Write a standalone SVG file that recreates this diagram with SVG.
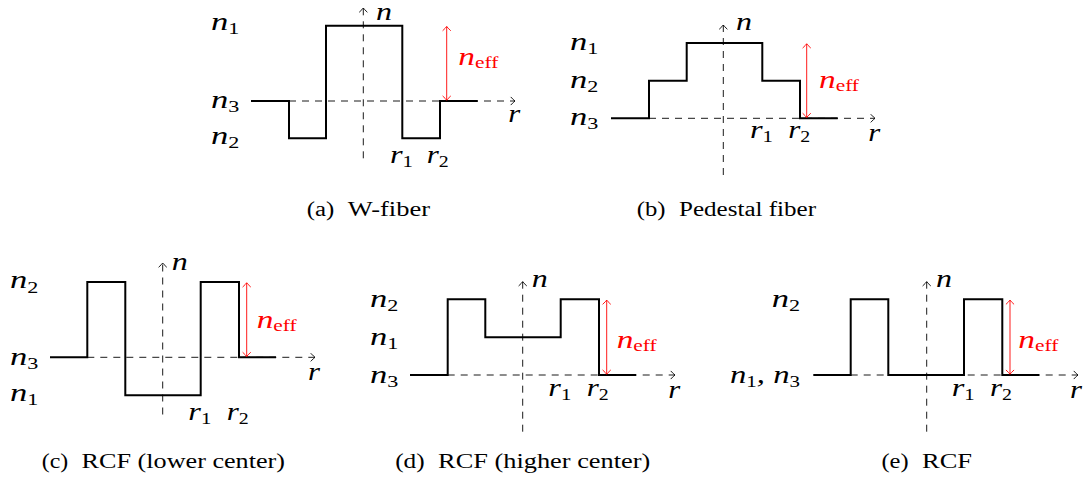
<svg xmlns="http://www.w3.org/2000/svg" width="1090" height="479" viewBox="0 0 1090 479">
<defs>
<marker id="ah" markerUnits="userSpaceOnUse" markerWidth="12" markerHeight="12" viewBox="-6 -6 12 12" refX="0" refY="0" orient="auto-start-reverse">
<path d="M-4,-3.8 Q-1.2,-0.8 0,0 Q-1.2,0.8 -4,3.8" fill="none" stroke="#000" stroke-width="0.9" stroke-dasharray="none" stroke-linecap="round"/>
</marker>
<marker id="ahr" markerUnits="userSpaceOnUse" markerWidth="12" markerHeight="12" viewBox="-6 -6 12 12" refX="0" refY="0" orient="auto-start-reverse">
<path d="M-4,-3.8 Q-1.2,-0.8 0,0 Q-1.2,0.8 -4,3.8" fill="none" stroke="#ff0000" stroke-width="0.9" stroke-dasharray="none" stroke-linecap="round"/>
</marker>
</defs>
<style>
.axis{fill:none;stroke:#000;stroke-width:0.9;stroke-dasharray:7 6;marker-end:url(#ah)}
.prof{fill:none;stroke:#000;stroke-width:2;stroke-linejoin:miter}
.neff{fill:none;stroke:#ff0000;stroke-width:0.9;marker-start:url(#ahr);marker-end:url(#ahr)}
.m{font-style:italic;font-size:25px;fill:#000}
.s{font-style:normal;font-size:16px}
.red{fill:#ff0000}
.cap{font-size:20px;fill:#000}
</style>
<rect width="1090" height="479" fill="#fff"/>

<g font-family="Liberation Serif, DejaVu Serif, Times New Roman, serif">
<g id="panel-a">
<path class="axis" d="M289,101 H515"/>
<path class="axis" d="M363.3,158.3 V8"/>
<path class="prof" d="M251,101 H289 V138.3 H326 V25.7 H402.3 V138.3 H440 V101 H477.7"/>
<path class="neff" d="M446.7,26.5 V100.2"/>
<text class="m" x="211" y="30" textLength="28.3" lengthAdjust="spacingAndGlyphs">n<tspan class="s" dy="4.3">1</tspan></text>
<text class="m" x="211" y="108" textLength="28.3" lengthAdjust="spacingAndGlyphs">n<tspan class="s" dy="4.3">3</tspan></text>
<text class="m" x="211" y="143.5" textLength="28.3" lengthAdjust="spacingAndGlyphs">n<tspan class="s" dy="4.3">2</tspan></text>
<text class="m" x="376" y="20" textLength="16" lengthAdjust="spacingAndGlyphs">n</text>
<text class="m" x="508.3" y="121.7" textLength="12" lengthAdjust="spacingAndGlyphs">r</text>
<text class="m" x="390" y="162.7" textLength="23" lengthAdjust="spacingAndGlyphs">r<tspan class="s" dy="4">1</tspan></text>
<text class="m" x="426.7" y="162.7" textLength="22" lengthAdjust="spacingAndGlyphs">r<tspan class="s" dy="4">2</tspan></text>
<text class="m red" x="458.3" y="65" textLength="40" lengthAdjust="spacingAndGlyphs">n<tspan class="s" dy="2.7">eff</tspan></text>
<text class="cap" x="306.7" y="216" textLength="27.6" lengthAdjust="spacingAndGlyphs">(a)</text>
<text class="cap" x="347.7" y="216" textLength="82.3" lengthAdjust="spacingAndGlyphs">W-fiber</text>
</g>

<g id="panel-b">
<path class="axis" d="M649,118.3 H875"/>
<path class="axis" d="M723.3,175 V25"/>
<path class="prof" d="M611,118.3 H649 V80.7 H686.7 V43 H762.3 V80.7 H800 V118.3 H837.7"/>
<path class="neff" d="M806.7,43.8 V117.5"/>
<text class="m" x="570" y="50" textLength="28.3" lengthAdjust="spacingAndGlyphs">n<tspan class="s" dy="4.3">1</tspan></text>
<text class="m" x="570" y="87.5" textLength="28.3" lengthAdjust="spacingAndGlyphs">n<tspan class="s" dy="4.3">2</tspan></text>
<text class="m" x="570" y="125" textLength="28.3" lengthAdjust="spacingAndGlyphs">n<tspan class="s" dy="4.3">3</tspan></text>
<text class="m" x="736" y="30" textLength="16" lengthAdjust="spacingAndGlyphs">n</text>
<text class="m" x="868.3" y="140.5" textLength="12" lengthAdjust="spacingAndGlyphs">r</text>
<text class="m" x="750" y="138.3" textLength="23" lengthAdjust="spacingAndGlyphs">r<tspan class="s" dy="4">1</tspan></text>
<text class="m" x="788.3" y="138.3" textLength="22" lengthAdjust="spacingAndGlyphs">r<tspan class="s" dy="4">2</tspan></text>
<text class="m red" x="819" y="88" textLength="40" lengthAdjust="spacingAndGlyphs">n<tspan class="s" dy="2.7">eff</tspan></text>
<text class="cap" x="636.7" y="216" textLength="28.8" lengthAdjust="spacingAndGlyphs">(b)</text>
<text class="cap" x="679" y="216" textLength="137" lengthAdjust="spacingAndGlyphs">Pedestal fiber</text>
</g>

<g id="panel-c">
<path class="axis" d="M87.3,357.3 H315"/>
<path class="axis" d="M162.7,414.5 V263"/>
<path class="prof" d="M50,357.3 H87.3 V282 H125.3 V395.3 H200.7 V282 H239 V357.3 H276"/>
<path class="neff" d="M246.7,282.8 V356.5"/>
<text class="m" x="10" y="288.3" textLength="28.3" lengthAdjust="spacingAndGlyphs">n<tspan class="s" dy="4.3">2</tspan></text>
<text class="m" x="10" y="364.5" textLength="28.3" lengthAdjust="spacingAndGlyphs">n<tspan class="s" dy="4.3">3</tspan></text>
<text class="m" x="10" y="401" textLength="28.3" lengthAdjust="spacingAndGlyphs">n<tspan class="s" dy="4.3">1</tspan></text>
<text class="m" x="171.7" y="270" textLength="16" lengthAdjust="spacingAndGlyphs">n</text>
<text class="m" x="308" y="380" textLength="12" lengthAdjust="spacingAndGlyphs">r</text>
<text class="m" x="188.3" y="419.5" textLength="23" lengthAdjust="spacingAndGlyphs">r<tspan class="s" dy="4">1</tspan></text>
<text class="m" x="226.7" y="419.5" textLength="22" lengthAdjust="spacingAndGlyphs">r<tspan class="s" dy="4">2</tspan></text>
<text class="m red" x="256.7" y="328" textLength="40" lengthAdjust="spacingAndGlyphs">n<tspan class="s" dy="2.7">eff</tspan></text>
<text class="cap" x="41.7" y="467.7" textLength="26.5" lengthAdjust="spacingAndGlyphs">(c)</text>
<text class="cap" x="81.6" y="467.7" textLength="203.4" lengthAdjust="spacingAndGlyphs">RCF (lower center)</text>
</g>

<g id="panel-d">
<path class="axis" d="M447.7,375 H675"/>
<path class="axis" d="M522.7,431.7 V281.7"/>
<path class="prof" d="M410,375 H447.7 V299.3 H485.3 V337.3 H560.7 V299.3 H599 V375 H636"/>
<path class="neff" d="M606.7,300.1 V374.2"/>
<text class="m" x="370" y="306.5" textLength="28.3" lengthAdjust="spacingAndGlyphs">n<tspan class="s" dy="4.3">2</tspan></text>
<text class="m" x="370" y="344.5" textLength="28.3" lengthAdjust="spacingAndGlyphs">n<tspan class="s" dy="4.3">1</tspan></text>
<text class="m" x="370" y="382.5" textLength="28.3" lengthAdjust="spacingAndGlyphs">n<tspan class="s" dy="4.3">3</tspan></text>
<text class="m" x="531.7" y="286.7" textLength="16" lengthAdjust="spacingAndGlyphs">n</text>
<text class="m" x="668.3" y="398" textLength="12" lengthAdjust="spacingAndGlyphs">r</text>
<text class="m" x="548.3" y="396" textLength="23" lengthAdjust="spacingAndGlyphs">r<tspan class="s" dy="4">1</tspan></text>
<text class="m" x="586.7" y="396" textLength="22" lengthAdjust="spacingAndGlyphs">r<tspan class="s" dy="4">2</tspan></text>
<text class="m red" x="616.7" y="348" textLength="40" lengthAdjust="spacingAndGlyphs">n<tspan class="s" dy="2.7">eff</tspan></text>
<text class="cap" x="395.2" y="467.7" textLength="29.5" lengthAdjust="spacingAndGlyphs">(d)</text>
<text class="cap" x="438.1" y="467.7" textLength="212.2" lengthAdjust="spacingAndGlyphs">RCF (higher center)</text>
</g>

<g id="panel-e">
<path class="axis" d="M850.7,375 H1078"/>
<path class="axis" d="M926.7,431.7 V281.7"/>
<path class="prof" d="M813.3,375 H850.7 V299.3 H888.3 V375 H964 V299.3 H1002.3 V375 H1039.3"/>
<path class="neff" d="M1010,300.1 V374.2"/>
<text class="m" x="771.7" y="306.5" textLength="28.3" lengthAdjust="spacingAndGlyphs">n<tspan class="s" dy="4.3">2</tspan></text>
<text class="m" x="730" y="382.5" textLength="70" lengthAdjust="spacingAndGlyphs">n<tspan class="s" dy="4.3">1</tspan><tspan dy="-4.3">, n</tspan><tspan class="s" dy="4.3">3</tspan></text>
<text class="m" x="936" y="286.7" textLength="16" lengthAdjust="spacingAndGlyphs">n</text>
<text class="m" x="1070" y="398" textLength="12" lengthAdjust="spacingAndGlyphs">r</text>
<text class="m" x="951.7" y="396" textLength="23" lengthAdjust="spacingAndGlyphs">r<tspan class="s" dy="4">1</tspan></text>
<text class="m" x="990" y="396" textLength="22" lengthAdjust="spacingAndGlyphs">r<tspan class="s" dy="4">2</tspan></text>
<text class="m red" x="1018.3" y="348" textLength="40" lengthAdjust="spacingAndGlyphs">n<tspan class="s" dy="2.7">eff</tspan></text>
<text class="cap" x="881.4" y="467.7" textLength="27.2" lengthAdjust="spacingAndGlyphs">(e)</text>
<text class="cap" x="922" y="467.7" textLength="50" lengthAdjust="spacingAndGlyphs">RCF</text>
</g>
</g>
</svg>
